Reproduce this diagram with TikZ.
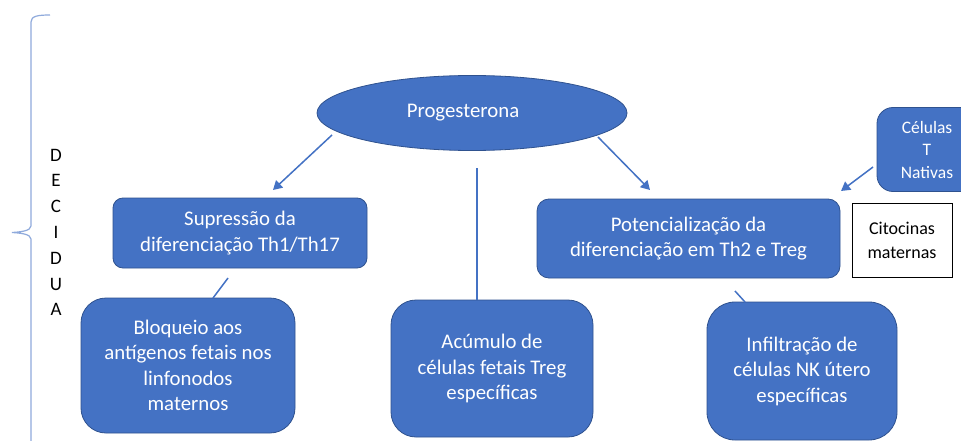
\documentclass[tikz,border=0pt]{standalone}
\usepackage{fontspec}
\setmainfont{Carlito}
\usetikzlibrary{shapes.geometric,arrows.meta}
\definecolor{boxblue}{HTML}{4472C4}
\definecolor{boxedge}{HTML}{2F528F}
\definecolor{bracecol}{HTML}{8FAADC}
\begin{document}
\begin{tikzpicture}[x=1pt,y=-1pt,
  bluebox/.style={draw=boxedge, fill=boxblue, line width=0.8pt, text=white, align=center, inner sep=0pt, font=\fontsize{20.8}{25.5}\selectfont},
  smallbox/.style={bluebox, font=\fontsize{17.5}{22.5}\selectfont},
  whitebox/.style={draw=black, fill=white, line width=0.8pt, text=black, align=center, inner sep=0pt, font=\fontsize{18}{24}\selectfont},
  conn/.style={draw=boxblue, line width=1.5pt},
  arr/.style={conn, -{Triangle[length=9pt,width=10pt]}},
  lettercol/.style={align=center, inner sep=0pt, text=black, font=\fontsize{19}{25.8}\selectfont}
]
\useasboundingbox (0,0) rectangle (961,441);
\fill[white] (0,0) rectangle (961,441);

% brace
\draw[bracecol, line width=1.2pt] (50,15) .. controls (38,15) and (31,16) .. (31,22) -- (31,226)
  .. controls (31,231) and (20,232) .. (12,232.5) .. controls (20,233) and (31,234) .. (31,239) -- (31,450);
\node[lettercol] (dec) at (56,232.5) {D\\E\\C\\I\\D\\U\\A};

% nodes
\node[bluebox, ellipse, minimum width=310pt, minimum height=75pt] (prog) at (472,113) {Progesterona\hspace*{18pt}};
\node[bluebox, rounded corners=10pt, minimum width=254pt, minimum height=70pt] (sup) at (240,233) {Supressão da\\diferenciação Th1/Th17};
\node[bluebox, rounded corners=12pt, minimum width=303pt, minimum height=79pt] (pot) at (688.5,238.5) {Potencialização da\\diferenciação em Th2 e Treg};
\node[smallbox, rounded corners=16pt, minimum width=100pt, minimum height=84pt] (cel) at (927,149.5) {Células\\T\\Nativas\hspace*{0pt}};
\node[whitebox, minimum width=100pt, minimum height=74pt] (cit) at (902,240) {Citocinas\\maternas};
\node[bluebox, rounded corners=25pt, minimum width=214pt, minimum height=135pt] (blo) at (188,365.5) {Bloqueio aos\\antígenos fetais nos\\linfonodos\\maternos};
\node[bluebox, rounded corners=25pt, minimum width=202pt, minimum height=137pt] (acu) at (492,368.5) {Acúmulo de\\células fetais Treg\\específicas};
\node[bluebox, rounded corners=28pt, minimum width=190pt, minimum height=138pt] (inf) at (802,371) {Infiltração de\\células NK útero\\específicas};

% connector endpoints
\coordinate (a1s) at (332,135);
\coordinate (a1e) at (273,190);
\coordinate (a2s) at (598,137);
\coordinate (a2e) at (650,190);
\coordinate (a3s) at (873,167);
\coordinate (a3e) at (841,191);
\coordinate (vs) at (477,168);
\coordinate (ve) at (477,300);
\coordinate (l1s) at (228,278);
\coordinate (l1e) at (213,298);
\coordinate (l2s) at (735,291);
\coordinate (l2e) at (745,302);

\draw[arr] (a1s) -- (a1e);
\draw[arr] (a2s) -- (a2e);
\draw[arr] (a3s) -- (a3e);
\draw[conn] (vs) -- (ve);
\draw[conn] (l1s) -- (l1e);
\draw[conn] (l2s) -- (l2e);
\end{tikzpicture}
\end{document}
